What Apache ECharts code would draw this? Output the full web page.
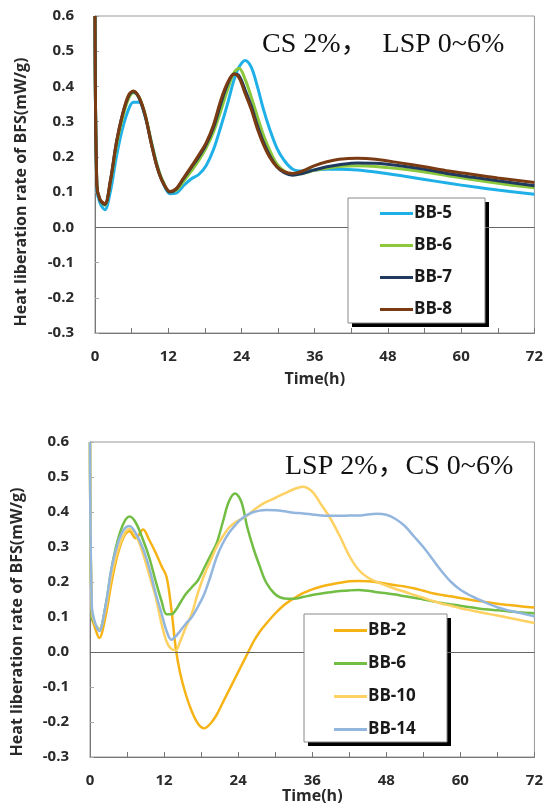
<!DOCTYPE html>
<html><head><meta charset="utf-8">
<script src="https://cdn.jsdelivr.net/npm/echarts@6/dist/echarts.min.js"></script>
<style>html,body{margin:0;padding:0;background:#fff}#c{width:546px;height:812px}</style>
</head><body><div id="c"></div>
<script>
// ---- Top chart: CS 2%, LSP 0~6% ----
const topHours = [0,0.3,0.8,1.6,2.5,3.5,4.5,5.5,6.3,7.2,8.2,9.2,10.2,11.2,12.3,13.3,14.5,15.8,17,18.2,19.4,20.6,21.7,22.8,23.6,24.6,25.6,26.6,27.6,28.6,29.8,31,32.4,34,36,38,40,43,46,50,54,58,62,66,72];
const bb5 = [0.6,0.11,0.07,0.05,0.1,0.2,0.28,0.335,0.355,0.355,0.315,0.245,0.175,0.125,0.095,0.097,0.118,0.138,0.15,0.175,0.22,0.285,0.35,0.42,0.455,0.474,0.455,0.4,0.335,0.28,0.225,0.19,0.165,0.16,0.163,0.165,0.165,0.163,0.157,0.147,0.136,0.125,0.115,0.106,0.094];
const bb6Top = [0.6,0.12,0.078,0.063,0.125,0.23,0.31,0.365,0.382,0.37,0.322,0.245,0.175,0.128,0.1,0.105,0.13,0.16,0.19,0.225,0.27,0.33,0.39,0.44,0.452,0.42,0.37,0.315,0.262,0.22,0.18,0.16,0.15,0.153,0.162,0.168,0.173,0.175,0.173,0.166,0.157,0.146,0.135,0.125,0.112];
const bb7 = [0.6,0.12,0.078,0.065,0.13,0.24,0.32,0.372,0.385,0.368,0.318,0.24,0.17,0.125,0.1,0.108,0.138,0.17,0.2,0.235,0.283,0.35,0.405,0.435,0.43,0.39,0.345,0.29,0.242,0.205,0.172,0.155,0.148,0.153,0.163,0.172,0.178,0.183,0.182,0.175,0.165,0.152,0.142,0.132,0.118];
const bb8 = [0.6,0.12,0.08,0.067,0.13,0.24,0.32,0.375,0.387,0.37,0.32,0.24,0.17,0.125,0.102,0.11,0.14,0.173,0.205,0.24,0.29,0.36,0.41,0.435,0.425,0.38,0.335,0.28,0.235,0.2,0.172,0.158,0.153,0.16,0.175,0.186,0.193,0.196,0.193,0.183,0.172,0.16,0.15,0.14,0.127];

// ---- Bottom chart: LSP 2%, CS 0~6% ----
const botHours = [0,0.3,0.8,1.5,2.5,3.5,4.5,5.5,6.4,7.4,8.6,9.6,10.6,11.6,12.4,13.2,13.9,14.6,15.5,16.5,17.5,18.5,19.5,20.5,21.5,22.5,23.5,24.5,25.5,26.5,27.5,28.5,30,31.5,33,34.5,36,37.5,39,40.5,42,43.5,45,46.5,48,49.5,51,52.5,54,55.5,57,58.5,60,62,64,66,68,70,72];
const bb2 = [0.6,0.1,0.07,0.04,0.1,0.2,0.28,0.33,0.345,0.325,0.35,0.32,0.285,0.245,0.215,0.12,0.01,-0.06,-0.12,-0.17,-0.205,-0.218,-0.205,-0.18,-0.145,-0.11,-0.075,-0.04,-0.005,0.03,0.058,0.08,0.11,0.135,0.153,0.168,0.179,0.187,0.193,0.198,0.202,0.203,0.202,0.199,0.195,0.191,0.187,0.182,0.175,0.168,0.163,0.159,0.154,0.148,0.143,0.138,0.134,0.13,0.127];
const bb6Bot = [0.6,0.1,0.08,0.065,0.13,0.24,0.32,0.37,0.387,0.37,0.32,0.27,0.205,0.145,0.108,0.108,0.12,0.14,0.165,0.185,0.205,0.24,0.275,0.31,0.37,0.43,0.453,0.43,0.355,0.295,0.245,0.2,0.165,0.153,0.152,0.157,0.163,0.167,0.171,0.174,0.176,0.177,0.175,0.171,0.168,0.164,0.159,0.155,0.15,0.145,0.14,0.136,0.132,0.127,0.122,0.119,0.116,0.113,0.111];
const bb10 = [0.6,0.12,0.08,0.065,0.12,0.22,0.29,0.335,0.352,0.335,0.28,0.22,0.16,0.08,0.03,0.008,0.005,0.03,0.07,0.11,0.17,0.22,0.26,0.3,0.33,0.355,0.37,0.38,0.39,0.405,0.418,0.428,0.44,0.453,0.465,0.472,0.458,0.42,0.38,0.33,0.275,0.235,0.213,0.2,0.19,0.18,0.172,0.163,0.155,0.146,0.138,0.132,0.125,0.118,0.111,0.104,0.097,0.09,0.083];
const bb14 = [0.6,0.13,0.085,0.06,0.13,0.24,0.31,0.35,0.36,0.34,0.295,0.24,0.17,0.11,0.06,0.035,0.045,0.06,0.08,0.1,0.13,0.165,0.215,0.27,0.31,0.34,0.362,0.38,0.392,0.4,0.404,0.406,0.405,0.402,0.398,0.396,0.393,0.39,0.389,0.389,0.39,0.39,0.393,0.395,0.392,0.38,0.36,0.33,0.3,0.265,0.23,0.2,0.178,0.158,0.142,0.128,0.118,0.11,0.102];

const yTicks = [-0.3,-0.2,-0.1,0.0,0.1,0.2,0.3,0.4,0.5,0.6];
const xTickStep = 6, xLabelStep = 12;

const topNames = ['BB-5','BB-6','BB-7','BB-8'];
const topColors = ['#1fb0e8','#8cc83c','#1f3a5e','#7a3a12'];
const botNames = ['BB-2','BB-6','BB-10','BB-14'];
const botColors = ['#f6b316','#72bd44','#fdd162','#93b6df'];

const zip = (xs, ys) => xs.map((x, i) => [x, ys[i]]);
const labelFont = {fontFamily: 'Open Sans', fontWeight: 'bold', fontSize: 15, color: '#2a2a2a'};

function mkX(idx, nameGap){
  return {type:'value', gridIndex: idx, min: 0, max: 72, interval: xTickStep,
    name: 'Time(h)', nameLocation: 'middle', nameGap: nameGap,
    nameTextStyle: {fontFamily:'Open Sans', fontWeight:'bold', fontSize:16, color:'#2a2a2a'},
    axisLine: {onZero:false, lineStyle:{color:'#777', width:1}},
    axisTick: {inside:true, length:5, lineStyle:{color:'#777'}},
    axisLabel: Object.assign({margin: 16, formatter: v => (v % xLabelStep === 0 ? String(v) : ''), showMaxLabel:true}, labelFont),
    splitLine: {show:false}};
}
function mkY(idx){
  return {type:'value', gridIndex: idx, min: yTicks[0], max: yTicks[yTicks.length-1], interval: 0.1,
    axisLine: {show:true, onZero:false, lineStyle:{color:'#777', width:1}},
    axisTick: {inside:true, length:4, lineStyle:{color:'#aaa'}},
    axisLabel: Object.assign({margin: 21, formatter: v => v.toFixed(1)}, labelFont),
    splitLine: {show:false}};
}
function mkSeries(name, xs, ys, color, xi, width, withZero){
  const s = {type:'line', name, xAxisIndex: xi, yAxisIndex: xi, data: zip(xs, ys),
    smooth: 0.35, showSymbol:false, symbol:'none', lineStyle:{color, width}, itemStyle:{color}, z: 3};
  if (withZero) s.markLine = {silent:true, symbol:'none', label:{show:false}, animation:false,
    lineStyle:{color:'#666', type:'solid', width:1}, data:[{yAxis:0}]};
  return s;
}

const series = [];
[bb5, bb6Top, bb7, bb8].forEach((d, i) => series.push(mkSeries(topNames[i], topHours, d, topColors[i], 0, 3, i === 0)));
[bb2, bb6Bot, bb10, bb14].forEach((d, i) => series.push(mkSeries(botNames[i], botHours, d, botColors[i], 1, 2.5, i === 0)));

const legendText = {fontFamily:'Open Sans', fontWeight:'bold', fontSize:17, color:'#1a1a1a', lineHeight:16, padding:[0,0,0,-4]};
function mkLegend(names, colors, left, top, gap){
  return {orient:'vertical', left, top, itemGap: gap, itemWidth: 33, itemHeight: 3, icon:'rect', padding:0,
    selectedMode:false, z: 20, textStyle: legendText,
    data: names.map((n, i) => ({name:n, itemStyle:{color:colors[i]}}))};
}

const serif = '"Liberation Serif", "Noto Sans CJK JP", serif';
const chart = echarts.init(document.getElementById('c'), null, {renderer:'canvas'});
chart.setOption({
  animation:false,
  backgroundColor:'#fff',
  grid:[
    {left:95, top:16, width:440, height:317, show:true, borderColor:'#999', borderWidth:1, backgroundColor:'transparent'},
    {left:90, top:442, width:450, height:315, show:true, borderColor:'#999', borderWidth:1, backgroundColor:'transparent'}
  ],
  xAxis:[mkX(0, 38), mkX(1, 28)],
  yAxis:[mkY(0), mkY(1)],
  legend:[mkLegend(topNames, topColors, 380, 205, 15), mkLegend(botNames, botColors, 334, 622, 16)],
  graphic:[
    {type:'rect', shape:{x:352, y:202, width:137, height:125}, style:{fill:'#000'}, z:5},
    {type:'rect', shape:{x:348, y:198, width:137, height:125}, style:{fill:'#fff', stroke:'#888', lineWidth:1}, z:6},
    {type:'rect', shape:{x:308, y:618, width:143, height:128}, style:{fill:'#000'}, z:5},
    {type:'rect', shape:{x:304, y:614, width:143, height:128}, style:{fill:'#fff', stroke:'#888', lineWidth:1}, z:6},
    {type:'text', x:262, y:45, z:12, style:{text:'CS 2%，  LSP 0~6%', font:'28px ' + serif, fill:'#111', textVerticalAlign:'middle'}},
    {type:'text', x:285, y:467, z:12, style:{text:'LSP 2%，CS 0~6%', font:'28px ' + serif, fill:'#111', textVerticalAlign:'middle'}},
    {type:'text', x:21, y:192, rotation:Math.PI/2, z:12, style:{text:'Heat liberation rate of BFS(mW/g)', font:'bold 16px "Open Sans"', fill:'#2a2a2a', textAlign:'center', textVerticalAlign:'middle'}},
    {type:'text', x:17, y:622, rotation:Math.PI/2, z:12, style:{text:'Heat liberation rate of BFS(mW/g)', font:'bold 16px "Open Sans"', fill:'#2a2a2a', textAlign:'center', textVerticalAlign:'middle'}}
  ],
  series
});
</script></body></html>
